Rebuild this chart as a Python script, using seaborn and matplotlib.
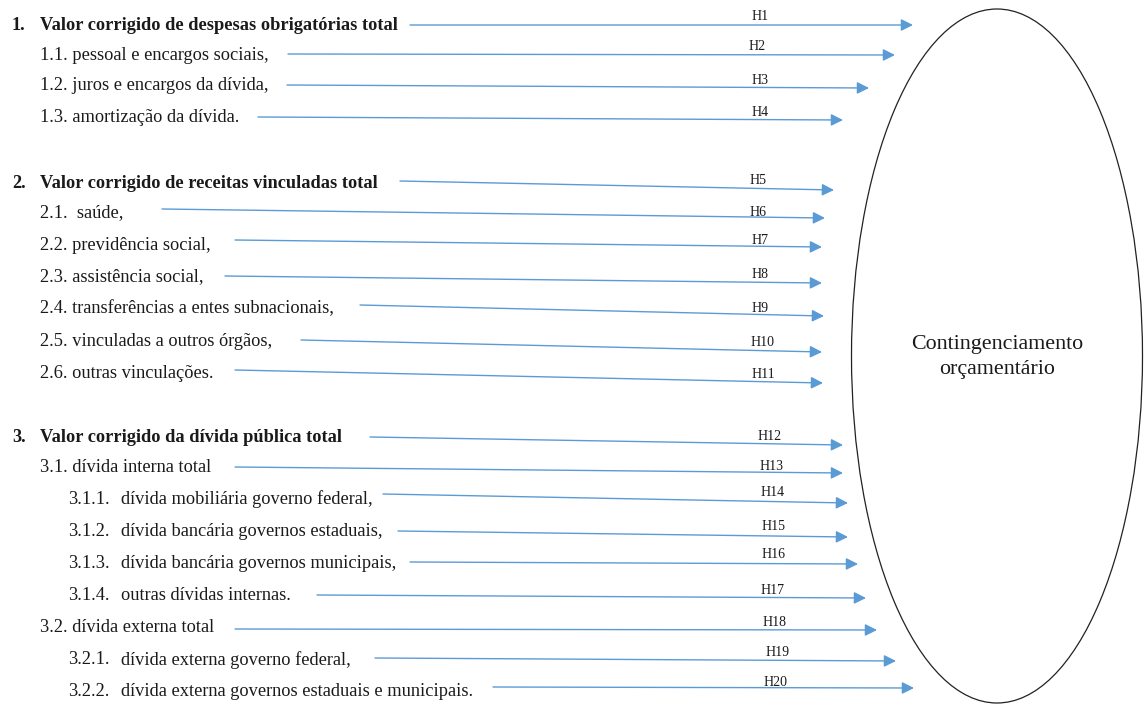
import matplotlib
matplotlib.use("Agg")
import matplotlib.pyplot as plt
import seaborn as sns
from matplotlib.patches import Ellipse

sns.set_theme(style="white")
plt.rcParams['font.family'] = ['Liberation Serif', 'DejaVu Serif']

# ---- data ----
numbers = ["1.", "1.1.", "1.2.", "1.3.",
           "2.", "2.1.", "2.2.", "2.3.", "2.4.", "2.5.", "2.6.",
           "3.", "3.1.", "3.1.1.", "3.1.2.", "3.1.3.", "3.1.4.", "3.2.", "3.2.1.", "3.2.2."]
texts = ["Valor corrigido de despesas obrigatórias total",
         "pessoal e encargos sociais,",
         "juros e encargos da dívida,",
         "amortização da dívida.",
         "Valor corrigido de receitas vinculadas total",
         " saúde,",
         "previdência social,",
         "assistência social,",
         "transferências a entes subnacionais,",
         "vinculadas a outros órgãos,",
         "outras vinculações.",
         "Valor corrigido da dívida pública total",
         "dívida interna total",
         "dívida mobiliária governo federal,",
         "dívida bancária governos estaduais,",
         "dívida bancária governos municipais,",
         "outras dívidas internas.",
         "dívida externa total",
         "dívida externa governo federal,",
         "dívida externa governos estaduais e municipais."]
hyp = ["H%d" % i for i in range(1, 21)]
label_y = [25, 55, 86, 118, 183, 213, 245, 277, 309, 341, 373,
           437, 467, 499, 531, 563, 595, 628, 660, 691]
arrow_x0 = [410, 288, 287, 258, 400, 162, 235, 225, 360, 301, 235,
            370, 235, 383, 398, 410, 317, 235, 375, 493]
arrow_y0 = [25, 54, 85, 117, 181, 209, 240, 276, 305, 340, 370,
            437, 467, 494, 531, 562, 595, 629, 658, 687]
arrow_x1 = [913, 895, 869, 843, 834, 825, 822, 822, 824, 822, 823,
            843, 843, 848, 848, 858, 866, 877, 896, 914]
arrow_y1 = [25, 55, 88, 120, 190, 218, 247, 283, 316, 352, 383,
            445, 473, 503, 537, 564, 598, 630, 661, 688]
hyp_x = [760, 757, 760, 760, 758, 758, 760, 760, 760, 763, 763,
         770, 772, 773, 774, 774, 773, 775, 778, 776]
hyp_y = [17, 47, 80, 113, 181, 213, 241, 274, 309, 343, 375,
         437, 466, 492, 527, 555, 590, 622, 652, 683]
center_text = "Contingenciamento\norçamentário"

W, H = 1146, 704
fig = plt.figure(figsize=(W / 100, H / 100), dpi=100)
ax = fig.add_axes([0, 0, 1, 1])
ax.set_xlim(0, W)
ax.set_ylim(H, 0)
ax.axis("off")

blue = "#5B9BD5"
tc = "#1a1a1a"
fs = 13.2
for num, txt, y in zip(numbers, texts, label_y):
    level = num.count(".")
    if level == 1:
        ax.text(12, y, num, fontsize=fs, fontweight="bold", va="center", ha="left", color=tc)
        ax.text(40, y, txt, fontsize=fs, fontweight="bold", va="center", ha="left", color=tc)
    elif level == 2:
        ax.text(40, y, num + " " + txt, fontsize=fs, va="center", ha="left", color=tc)
    else:
        ax.text(68, y, num, fontsize=fs, va="center", ha="left", color=tc)
        ax.text(121, y, txt, fontsize=fs, va="center", ha="left", color=tc)

for h, x0, y0, x1, y1, hx, hy in zip(hyp, arrow_x0, arrow_y0, arrow_x1, arrow_y1, hyp_x, hyp_y):
    ax.annotate("", xy=(x1, y1), xytext=(x0, y0),
                arrowprops=dict(arrowstyle="-|>,head_length=0.6,head_width=0.3",
                                color=blue, lw=1.0, shrinkA=0, shrinkB=0))
    ax.text(hx, hy, h, fontsize=10, ha="center", va="center", color=tc)

ax.add_patch(Ellipse((997, 356), 291, 694, fill=False, edgecolor="#222222", lw=0.9))
ax.text(997, 357, center_text, fontsize=15.8, ha="center", va="center",
        linespacing=1.38, color=tc)

fig.savefig("out.png", dpi=100)
